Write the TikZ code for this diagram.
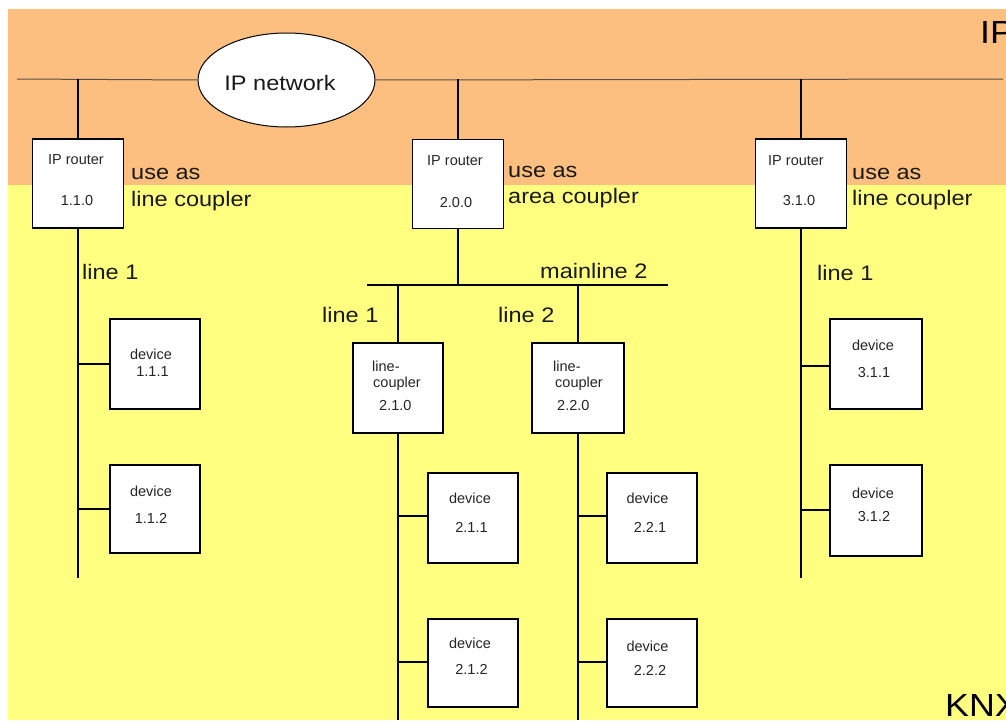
\documentclass[tikz,border=0pt]{standalone}
\usepackage{fontspec}
\setmainfont{Liberation Sans}
\newfontfamily\bigfont[FakeStretch=1.12]{Liberation Sans}
\usetikzlibrary{shapes.geometric}
\definecolor{iporange}{RGB}{253,191,128}
\definecolor{knxyellow}{RGB}{255,255,128}
\definecolor{busgray}{RGB}{90,80,70}
\tikzset{
  unitbox/.style={draw=black, fill=white, line width=1.2pt, inner sep=0pt, minimum width=91pt, minimum height=89pt},
  devbox/.style={unitbox, minimum width=90pt, minimum height=90pt},
  knx/.style={draw=black, line width=1.4pt},
  ipbus/.style={draw=busgray, line width=1pt},
  small/.style={inner sep=0pt, text=black!85, font=\fontsize{14.5}{16}\selectfont},
  big/.style={inner sep=0pt, anchor=base west, text=black!90, font=\bigfont\fontsize{21}{22}\selectfont},
  huge/.style={inner sep=0pt, anchor=base west, text=black, font=\bigfont\fontsize{32}{34}\selectfont}
}
\begin{document}
\begin{tikzpicture}[x=1pt,y=-1pt]
\useasboundingbox (0,0) rectangle (1006,720);
\fill[white] (0,0) rectangle (1006,720);
\fill[iporange] (8,9) rectangle (1006,185);
\fill[knxyellow] (8,185) rectangle (1006,720);

% big corner labels
\node[huge] (iplbl) at (980,43) {IP};
\node[huge] (knxlbl) at (945,716) {KNX};

% IP backbone
\coordinate (busL) at (17,79);
\coordinate (busR) at (1003,79);
\node[draw=black, fill=white, line width=1pt, ellipse, minimum width=177pt, minimum height=94pt, inner sep=0pt] (ipnet) at (286.5,80) {};
\node[inner sep=0pt, text=black!90, font=\bigfont\fontsize{21}{22}\selectfont] (ipnettxt) at (280,83) {IP network};
\draw[ipbus] (busL) -- (ipnet.west);
\draw[ipbus] (ipnet.east) -- (busR);

% IP routers
\node[unitbox] (r1) at (78,183.5) {};
\node[unitbox] (r2) at (458,184) {};
\node[unitbox] (r3) at (801,183.5) {};
\coordinate (t1) at (78,79);
\coordinate (t2) at (458,79);
\coordinate (t3) at (801,79);
\draw[knx] (t1) -- (r1.north);
\draw[knx] (t2) -- (r2.north);
\draw[knx] (t3) -- (r3.north);

\node[small] (r1a) at (76,160) {IP router};
\node[small] (r1b) at (77,201) {1.1.0};
\node[small] (r2a) at (455,161) {IP router};
\node[small] (r2b) at (456,203) {2.0.0};
\node[small] (r3a) at (796,161) {IP router};
\node[small] (r3b) at (799,201) {3.1.0};

\node[big] (u1a) at (131,179) {use as};
\node[big] (u1b) at (131,206) {line coupler};
\node[big] (u2a) at (508,177) {use as};
\node[big] (u2b) at (508,203) {area coupler};
\node[big] (u3a) at (852,179) {use as};
\node[big] (u3b) at (852,205) {line coupler};

% line 1 (area 1)
\coordinate (e1) at (78,578);
\draw[knx] (r1.south) -- (e1);
\node[big] (l1a) at (82,279) {line 1};
\node[devbox] (d111) at (155,364) {};
\node[devbox, minimum height=88pt] (d112) at (155,509) {};
\draw[knx] (d111.west) -- (d111.west -| e1);
\draw[knx] (d112.west) -- (d112.west -| e1);
\node[small] (d111a) at (151,354) {device};
\node[small] (d111b) at (152.5,372) {1.1.1};
\node[small] (d112a) at (151,491) {device};
\node[small] (d112b) at (151,518) {1.1.2};

% area 2
\coordinate (mL) at (367,285);
\coordinate (mR) at (668,285);
\draw[knx] (mL) -- (mR);
\draw[knx] (r2.south) -- (r2.south |- mL);
\node[big] (ml2) at (540,278) {mainline 2};
\node[big] (l21) at (322,322) {line 1};
\node[big] (l22) at (498,322) {line 2};

\node[unitbox, minimum width=90pt, minimum height=90pt] (lc1) at (398,388) {};
\node[unitbox, minimum width=92pt, minimum height=90pt] (lc2) at (578,388) {};
\draw[knx] (lc1.north |- mL) -- (lc1.north);
\draw[knx] (lc2.north |- mL) -- (lc2.north);
\node[small, anchor=west] (lc1a) at (372,366) {line-};
\node[small, anchor=west] (lc1b) at (373,384) {coupler};
\node[small, anchor=west] (lc1c) at (379,406) {2.1.0};
\node[small, anchor=west] (lc2a) at (553,366) {line-};
\node[small, anchor=west] (lc2b) at (555,384) {coupler};
\node[small, anchor=west] (lc2c) at (557,406) {2.2.0};

\coordinate (e21) at (398,720);
\coordinate (e22) at (578,720);
\draw[knx] (lc1.south) -- (e21);
\draw[knx] (lc2.south) -- (e22);

\node[devbox] (d211) at (473,518) {};
\node[devbox, minimum height=88pt] (d212) at (473,663) {};
\node[devbox] (d221) at (652,518) {};
\node[devbox, minimum height=88pt] (d222) at (652,663) {};
\draw[knx] (d211.west |- 0,516) -- (398,516);
\draw[knx] (d212.west |- 0,662) -- (398,662);
\draw[knx] (d221.west |- 0,516) -- (577,516);
\draw[knx] (d222.west |- 0,662) -- (577,662);
\node[small] (d211a) at (470,498) {device};
\node[small] (d211b) at (471.5,527) {2.1.1};
\node[small] (d212a) at (470,643) {device};
\node[small] (d212b) at (471.5,669) {2.1.2};
\node[small] (d221a) at (647.5,498) {device};
\node[small] (d221b) at (650,527) {2.2.1};
\node[small] (d222a) at (647.5,646) {device};
\node[small] (d222b) at (650,670) {2.2.2};

% line 1 (area 3)
\coordinate (e3) at (801,578);
\draw[knx] (r3.south) -- (e3);
\node[big] (l3a) at (817,280) {line 1};
\node[devbox, minimum width=92pt] (d311) at (876,364) {};
\node[devbox, minimum width=92pt, minimum height=91pt] (d312) at (876,510.5) {};
\draw[knx] (d311.west |- 0,366) -- (801,366);
\draw[knx] (d312.west |- 0,510) -- (801,510);
\node[small] (d311a) at (873,345) {device};
\node[small] (d311b) at (874,373) {3.1.1};
\node[small] (d312a) at (873,493) {device};
\node[small] (d312b) at (874,517) {3.1.2};
\end{tikzpicture}
\end{document}
